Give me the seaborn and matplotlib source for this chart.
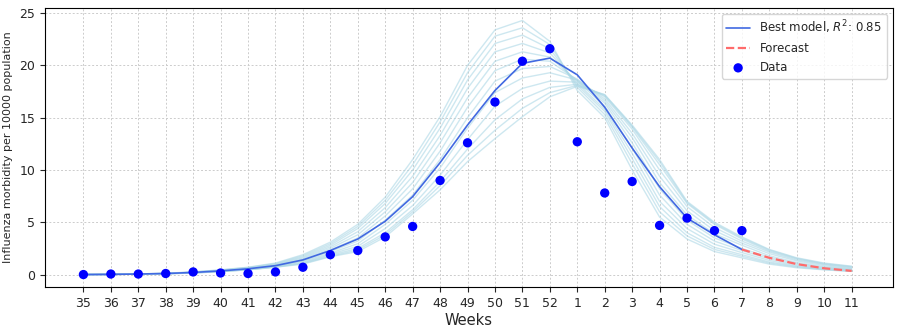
import matplotlib
matplotlib.use("Agg")
import matplotlib.pyplot as plt
import seaborn as sns
import pandas as pd
import numpy as np

weeks = ["35", "36", "37", "38", "39", "40", "41", "42", "43", "44", "45", "46", "47", "48",
         "49", "50", "51", "52", "1", "2", "3", "4", "5", "6", "7", "8", "9", "10", "11"]

data_vals = [0.0, 0.05, 0.05, 0.1, 0.25, 0.15, 0.1, 0.25, 0.7, 1.9, 2.3, 3.6, 4.6, 9.0,
             12.6, 16.5, 20.4, 21.6, 12.7, 7.8, 8.9, 4.7, 5.4, 4.2, 4.2]

best_vals = [0.0, 0.02, 0.05, 0.1, 0.2, 0.35, 0.55, 0.85, 1.4, 2.3, 3.4, 5.1, 7.45, 10.7,
             14.3, 17.6, 20.2, 20.7, 19.1, 16.0, 12.1, 8.4, 5.4, 3.8, 2.4]

forecast_vals = [2.4, 1.6, 1.0, 0.6, 0.35]

ens_1 = [0, 0.02, 0.06, 0.12, 0.25, 0.45, 0.7, 1.1, 1.9, 3.1, 4.8, 7.4, 11.0, 15.1, 20.0, 23.4, 24.3, 22.3, 17.6, 15.0, 10.0, 5.5, 3.4, 2.2, 1.6, 1.0, 0.65, 0.45, 0.3]
ens_2 = [0, 0.02, 0.06, 0.12, 0.24, 0.43, 0.68, 1.05, 1.8, 2.95, 4.6, 7.1, 10.5, 14.6, 19.3, 22.8, 23.6, 22.0, 17.9, 15.3, 10.6, 6.0, 3.7, 2.4, 1.75, 1.1, 0.72, 0.48, 0.32]
ens_3 = [0, 0.02, 0.05, 0.11, 0.23, 0.41, 0.65, 1.0, 1.7, 2.8, 4.4, 6.8, 10.0, 14.0, 18.6, 22.1, 22.9, 21.6, 18.1, 15.6, 11.1, 6.5, 4.0, 2.6, 1.9, 1.2, 0.78, 0.52, 0.35]
ens_4 = [0, 0.02, 0.05, 0.11, 0.22, 0.39, 0.62, 0.95, 1.6, 2.65, 4.1, 6.4, 9.4, 13.3, 17.8, 21.3, 22.1, 21.2, 18.3, 15.8, 11.6, 7.0, 4.4, 2.9, 2.1, 1.35, 0.85, 0.57, 0.38]
ens_5 = [0, 0.02, 0.05, 0.1, 0.21, 0.37, 0.59, 0.9, 1.5, 2.5, 3.8, 6.0, 8.8, 12.6, 16.9, 20.4, 21.3, 20.8, 18.5, 16.1, 12.1, 7.6, 4.8, 3.2, 2.3, 1.5, 0.95, 0.62, 0.42]
ens_6 = [0, 0.02, 0.04, 0.1, 0.2, 0.35, 0.56, 0.85, 1.4, 2.35, 3.5, 5.6, 8.2, 11.8, 16.0, 19.5, 20.6, 20.4, 18.6, 16.4, 12.6, 8.2, 5.2, 3.5, 2.5, 1.65, 1.05, 0.68, 0.46]
ens_7 = [0, 0.01, 0.04, 0.09, 0.19, 0.33, 0.53, 0.8, 1.3, 2.2, 3.2, 5.2, 7.6, 11.0, 15.0, 18.5, 19.7, 19.9, 18.7, 16.6, 13.1, 8.8, 5.7, 3.9, 2.8, 1.8, 1.15, 0.75, 0.52]
ens_8 = [0, 0.01, 0.04, 0.09, 0.18, 0.32, 0.51, 0.78, 1.25, 2.05, 2.95, 4.8, 7.1, 10.2, 14.0, 17.4, 18.8, 19.3, 18.6, 16.8, 13.5, 9.4, 6.1, 4.2, 3.0, 2.0, 1.3, 0.85, 0.58]
ens_9 = [0, 0.01, 0.04, 0.08, 0.17, 0.3, 0.49, 0.75, 1.15, 1.95, 2.7, 4.4, 6.6, 9.5, 12.9, 16.1, 17.8, 18.5, 18.4, 17.0, 13.9, 10.0, 6.5, 4.5, 3.2, 2.15, 1.4, 0.95, 0.65]
ens_10 = [0, 0.01, 0.03, 0.08, 0.16, 0.29, 0.47, 0.73, 1.1, 1.85, 2.5, 4.0, 6.2, 8.9, 12.0, 14.8, 16.8, 17.9, 18.2, 17.1, 14.1, 10.5, 6.8, 4.8, 3.4, 2.25, 1.5, 1.0, 0.72]
ens_11 = [0, 0.01, 0.03, 0.07, 0.15, 0.28, 0.46, 0.71, 1.05, 1.75, 2.35, 3.8, 6.0, 8.5, 11.4, 13.8, 15.9, 17.4, 18.1, 17.2, 14.2, 10.8, 6.9, 4.9, 3.5, 2.35, 1.55, 1.05, 0.76]
ens_12 = [0, 0.01, 0.03, 0.07, 0.15, 0.28, 0.45, 0.7, 1.0, 1.7, 2.2, 3.6, 5.8, 8.1, 10.8, 13.0, 15.1, 17.0, 18.0, 17.2, 14.3, 11.0, 7.0, 5.0, 3.6, 2.4, 1.6, 1.1, 0.8]

ensemble = [ens_1, ens_2, ens_3, ens_4, ens_5, ens_6, ens_7, ens_8, ens_9, ens_10, ens_11, ens_12]

sns.set_style("ticks")
plt.rcParams['font.family'] = ['DejaVu Sans']

fig = plt.figure(figsize=(9, 3.3), dpi=100)
ax = fig.add_axes([0.05, 0.13, 0.942, 0.846])

pos = list(range(len(weeks)))

ens_df = pd.DataFrame({
    "x": [p for _ in ensemble for p in pos],
    "y": [v for m in ensemble for v in m],
    "member": [i for i, m in enumerate(ensemble) for _ in m],
})
sns.lineplot(data=ens_df, x="x", y="y", units="member", estimator=None,
             color="lightblue", alpha=0.6, linewidth=1.0, ax=ax, legend=False)

best_df = pd.DataFrame({"x": pos[:len(best_vals)], "y": best_vals})
sns.lineplot(data=best_df, x="x", y="y", color="royalblue", linewidth=1.2, ax=ax,
             label=r"Best model, $R^2$: 0.85")

fc_df = pd.DataFrame({"x": pos[len(best_vals) - 1:], "y": forecast_vals})
sns.lineplot(data=fc_df, x="x", y="y", color="#ff6b6b", linewidth=1.6, ax=ax,
             linestyle="--", label="Forecast")

data_df = pd.DataFrame({"x": pos[:len(data_vals)], "y": data_vals})
sns.scatterplot(data=data_df, x="x", y="y", color="blue", s=45, edgecolor="none",
                ax=ax, label="Data", zorder=5)

ax.set_xticks(pos)
ax.set_xticklabels(weeks, fontsize=9)
ax.tick_params(axis="y", labelsize=9)
ax.set_yticks([0, 5, 10, 15, 20, 25])
ax.set_xlim(-1.4, 29.5)
ax.set_ylim(-1.2, 25.5)
ax.set_xlabel("Weeks", fontsize=10.5, labelpad=2)
ax.set_ylabel("Influenza morbidity per 10000 population", fontsize=8)
ax.yaxis.set_label_coords(-0.038, 0.5)
ax.grid(True, linestyle=(0, (2, 2)), color="#cccccc", linewidth=0.7)
for s in ax.spines.values():
    s.set_visible(True)
    s.set_color("black")
ax.legend(loc="upper right", fontsize=8.5, frameon=True, markerscale=1.0)

fig.savefig("out.png", dpi=100)
